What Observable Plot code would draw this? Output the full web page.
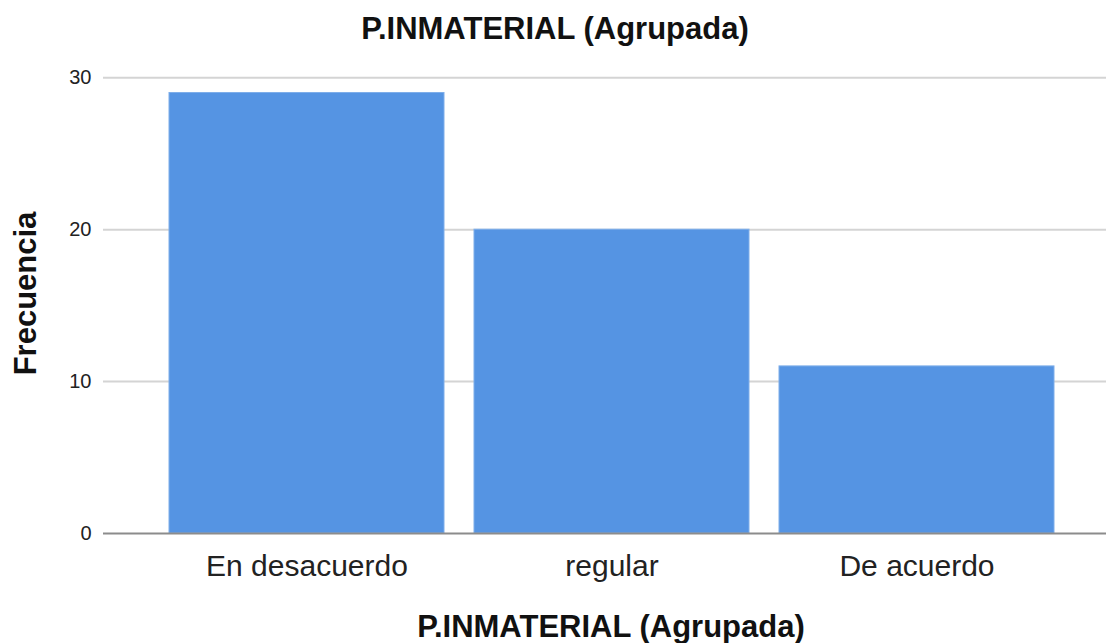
<!DOCTYPE html>
<html><head><meta charset="utf-8">
<script src="https://cdn.jsdelivr.net/npm/d3@7"></script>
<script src="https://cdn.jsdelivr.net/npm/@observablehq/plot@0.6"></script>
<style>body{margin:0;background:#fff;} svg{display:block;}</style>
</head><body><div id="chart"></div>
<script>
const categories = ["En desacuerdo", "regular", "De acuerdo"];
const frequencies = [29, 20, 11];
const yTicks = [0, 10, 20, 30];
const chartTitle = "P.INMATERIAL (Agrupada)";
const xLabel = "P.INMATERIAL (Agrupada)";
const yLabel = "Frecuencia";

const data = categories.map((c, i) => ({cat: c, freq: frequencies[i]}));
const font = "'Liberation Sans', Arial, sans-serif";

const chart = Plot.plot({
  width: 1110,
  height: 643,
  marginTop: 53,
  marginBottom: 110,
  marginLeft: 103,
  marginRight: 4,
  style: {fontFamily: font, background: "#fff"},
  x: {domain: categories, range: [168, 1055], paddingInner: 0.1, paddingOuter: 0},
  y: {domain: [0, 31.6]},
  marks: [
    Plot.ruleY(yTicks.filter(d => d > 0), {stroke: "#d4d4d4", strokeWidth: 2}),
    Plot.barY(data, {x: "cat", y: "freq", fill: "#5594e3", stroke: "#7eaeea", strokeWidth: 1}),
    Plot.ruleY([0], {stroke: "#8c8c8c", strokeWidth: 2}),
    Plot.ruleX([0], {x: () => 103, stroke: "#8c8c8c", strokeWidth: 2}),
    Plot.axisY({ticks: yTicks, tickSize: 0, tickPadding: 12, fontSize: 20, color: "#222",
      label: yLabel, labelAnchor: "center", labelArrow: "none", labelOffset: 90}),
    Plot.axisX({tickSize: 0, tickPadding: 21, fontSize: 30, color: "#222",
      label: null}),
    Plot.text([xLabel], {frameAnchor: "bottom", lineAnchor: "middle", dx: 6, dy: 94, fontSize: 31, fontWeight: "bold", fill: "#111"}),
    Plot.text([chartTitle], {frameAnchor: "top", lineAnchor: "middle", dx: -50, dy: -24, fontSize: 31, fontWeight: "bold", fill: "#111"})
  ]
});
document.getElementById("chart").appendChild(chart);
chart.querySelectorAll("g[aria-label='y-axis label'] text").forEach(t => {
  t.setAttribute("font-size", "31"); t.setAttribute("font-weight", "bold"); t.setAttribute("fill", "#111");
});
</script></body></html>
